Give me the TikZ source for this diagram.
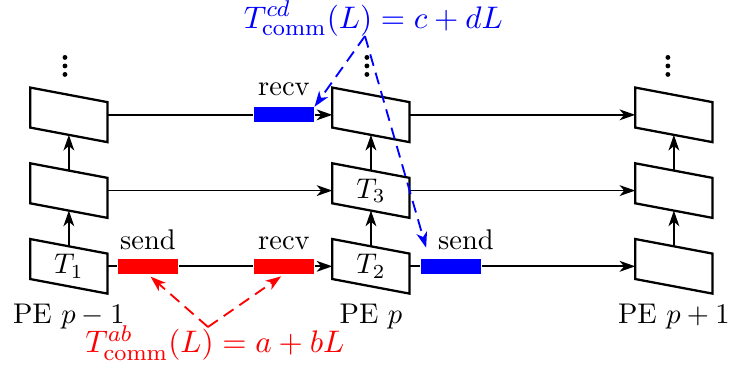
\documentclass[tikz,border=0pt]{standalone}
\usepackage{amsmath}
\usetikzlibrary{arrows.meta,positioning,calc}

\begin{document}
\begin{tikzpicture}[
  >={Stealth[length=5.5pt,width=3.8pt,inset=1.6pt]},
  pebox/.style={minimum width=0.94cm, minimum height=0.48cm, inner sep=0pt},
  msgblk/.style={minimum width=0.74cm, minimum height=0.185cm, inner sep=0pt},
  lbl/.style={inner sep=1pt},
  arr/.style={->,line width=0.6pt},
  cost/.style={->,dash pattern=on 4.2pt off 2.5pt,line width=0.65pt},
  formula/.style={font=\fontsize{11.2}{13}\selectfont, anchor=base}
]
\useasboundingbox (0,0) rectangle (9.025,4.568);
% tasks, one column per PE
\node[pebox] (a1) at (0.85,1.28) {$T_1$};
\node[pebox] (a2) at (0.85,2.215) {};
\node[pebox] (a3) at (0.85,3.15) {};
\node[pebox] (b1) at (4.58,1.28) {$T_2$};
\node[pebox] (b2) at (4.58,2.215) {$T_3$};
\node[pebox] (b3) at (4.58,3.15) {};
\node[pebox] (c1) at (8.32,1.28) {};
\node[pebox] (c2) at (8.32,2.215) {};
\node[pebox] (c3) at (8.32,3.15) {};
\foreach \n in {a1,a2,a3,b1,b2,b3,c1,c2,c3}
  \draw[line width=0.8pt] ($(\n.north west)+(0,0.09)$) -- ($(\n.north east)+(0,-0.09)$)
    -- ($(\n.south east)+(0,-0.09)$) -- ($(\n.south west)+(0,0.09)$) -- cycle;
% more tasks above
\foreach \n/\dx in {a3/-0.048,b3/-0.05,c3/-0.074}
  \foreach \dy in {0.252,0.357,0.462}
    \fill ($(\n.north)+(\dx,\dy)$) circle (0.03);
\node (pe1) [below=0.1cm of a1] {PE $p-1$};
\node (pe2) [below=0.1cm of b1] {PE $p$};
\node (pe3) [below=0.1cm of c1] {PE $p+1$};
% messages
\node[msgblk, fill=red] (sendA) at (1.827,1.28) {};
\node[msgblk, fill=red] (recvA) at (3.506,1.28) {};
\node[msgblk, fill=blue] (sendC) at (5.568,1.28) {};
\node[msgblk, fill=blue] (recvC) at (3.506,3.15) {};
\node[lbl] (ls1) [above=1.8pt of sendA] {send};
\node[lbl] (lr1) [above=1.8pt of recvA] {recv};
\node[lbl] (ls2) [above=1.8pt of sendC, xshift=0.185cm] {send};
\node[lbl] (lr2) [above=2.5pt of recvC] {recv};
\draw[line width=0.6pt] (a1) -- (sendA) -- (recvA); \draw[arr] (recvA) -- (b1);
\draw[line width=0.6pt] (b1) -- (sendC); \draw[arr] (sendC) -- (c1);
\draw[arr] (a2) -- (b2); \draw[arr] (b2) -- (c2);
\draw[line width=0.6pt] (a3) -- (recvC); \draw[arr] (recvC) -- (b3); \draw[arr] (b3) -- (c3);
\draw[arr] (a1) -- (a2); \draw[arr] (a2) -- (a3);
\draw[arr] (b1) -- (b2); \draw[arr] (b2) -- (b3);
\draw[arr] (c1) -- (c2); \draw[arr] (c2) -- (c3);
% cost models
\node[formula, text=blue] (fcd) at (4.61,4.22) {$T^{cd}_{\mathrm{comm}}(L) = c + dL$};
\node[formula, text=red] (fab) at (2.654,0.21) {$T^{ab}_{\mathrm{comm}}(L) = a + bL$};
\coordinate (cdtop) at (4.506,4.123);
\coordinate (abbot) at (2.568,0.531);
\draw[cost,blue] (cdtop) -- (recvC.north east);
\draw[cost,blue] (cdtop) -- ($(sendC.north west)+(0.07,0.13)$);
\draw[cost,red,shorten >=1.2pt] (abbot) -- (sendA.south);
\draw[cost,red,shorten >=1.2pt] (abbot) -- (recvA.south);
\end{tikzpicture}
\end{document}
